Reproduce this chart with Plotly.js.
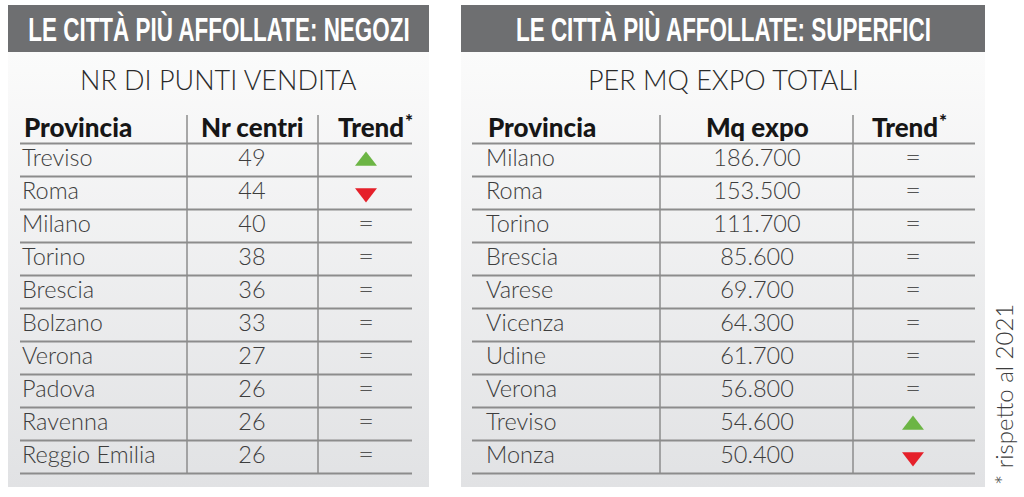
<!DOCTYPE html>
<html>
<head>
<meta charset="utf-8">
<script src="https://cdn.plot.ly/plotly-3.0.1.min.js"></script>
<style>
  html, body { margin: 0; padding: 0; background: #ffffff; }
  #chart { width: 1024px; height: 497px; }
</style>
</head>
<body>
<div id="chart"></div>
<script>
// tabella 1: negozi
const negoziProvince = ['Treviso', 'Roma', 'Milano', 'Torino', 'Brescia', 'Bolzano', 'Verona', 'Padova', 'Ravenna', 'Reggio Emilia'];
const negoziCentri = [49, 44, 40, 38, 36, 33, 27, 26, 26, 26];
const negoziTrend = ['up', 'down', '=', '=', '=', '=', '=', '=', '=', '='];

// tabella 2: superfici
const superfProvince = ['Milano', 'Roma', 'Torino', 'Brescia', 'Varese', 'Vicenza', 'Udine', 'Verona', 'Treviso', 'Monza'];
const superfMq = [186700, 153500, 111700, 85600, 69700, 64300, 61700, 56800, 54600, 50400];
const superfTrend = ['=', '=', '=', '=', '=', '=', '=', '=', 'up', 'down'];

const titoli = ['LE CITTÀ PIÙ AFFOLLATE: NEGOZI', 'LE CITTÀ PIÙ AFFOLLATE: SUPERFICI'];
const sottotitoli = ['NR DI PUNTI VENDITA', 'PER MQ EXPO TOTALI'];
const intestazioni = [['Provincia', 'Nr centri', 'Trend'], ['Provincia', 'Mq expo', 'Trend']];
const nota = '* rispetto al 2021';

// geometria (pixel)
const ROW0 = 160, ROWH = 33;
const rowY = i => ROW0 + ROWH * i;

const panels = [
  { x0: 8, x1: 429, lx0: 20, lx1: 412, sep: [187, 318], px: 22, vx: 252, tx: 366, hx: 371 },
  { x0: 461, x1: 985, lx0: 472, lx1: 975, sep: [660, 853], px: 486, vx: 757, tx: 913, hx: 905 }
];

const fmt = n => String(n).replace(/\B(?=(\d{3})+(?!\d))/g, '.');

const lightFont = { family: 'Lato, sans-serif', size: 23.5, color: '#3d3d3d', weight: 300 };
const boldFont = { family: 'Lato, sans-serif', size: 26, color: '#161616', weight: 900 };

const traces = [];
const shapes = [];
const annotations = [];
const titleIdx = [];

function addTable(p, idx, province, values, trend) {
  // sfondo sfumato
  traces.push({
    x: [p.x0, p.x1, p.x1, p.x0, p.x0],
    y: [52, 52, 487, 487, 52],
    mode: 'lines', line: { width: 0 },
    fill: 'toself',
    fillgradient: { type: 'vertical', colorscale: [[0, '#fbfbfb'], [1, '#e1e2e4']], start: 52, stop: 487 },
    hoverinfo: 'skip'
  });

  shapes.push({ type: 'rect', x0: p.x0, x1: p.x1, y0: 5, y1: 52, fillcolor: '#6e6f71', line: { width: 0 }, layer: 'above' });

  titleIdx.push(annotations.length);
  annotations.push({ x: (p.x0 + p.x1) / 2, y: 29, text: '<b>' + titoli[idx] + '</b>', showarrow: false,
    font: { family: '"Liberation Sans", Arial, sans-serif', size: 34, color: '#ffffff' } });
  annotations.push({ x: (p.x0 + p.x1) / 2, y: 79, text: sottotitoli[idx], showarrow: false,
    font: { family: 'Lato, sans-serif', size: 27, color: '#2a2a2a', weight: 300 } });

  // intestazioni
  const h = intestazioni[idx];
  annotations.push({ x: p.px, y: 127, text: h[0], showarrow: false, xanchor: 'left', font: boldFont });
  annotations.push({ x: p.vx, y: 127, text: h[1], showarrow: false, font: boldFont });
  annotations.push({ x: p.hx, y: 127, text: h[2], showarrow: false, font: boldFont });
  annotations.push({ x: p.hx + 38, y: 120, text: '*', showarrow: false, font: { family: 'Lato, sans-serif', size: 19, color: '#161616', weight: 900 } });

  // linee
  for (let k = 0; k <= province.length; k++) {
    const y = rowY(k) - ROWH / 2;
    shapes.push({ type: 'line', x0: p.lx0, x1: p.lx1, y0: y, y1: y, line: { color: '#8c8c8c', width: 2 }, layer: 'above' });
  }
  p.sep.forEach(x => {
    shapes.push({ type: 'line', x0: x, x1: x, y0: 115, y1: rowY(province.length) - ROWH / 2, line: { color: '#8c8c8c', width: 1.5 }, layer: 'above' });
  });

  const ys = province.map((_, i) => rowY(i));
  traces.push({ x: province.map(() => p.px), y: ys, text: province, mode: 'text', textposition: 'middle right',
    textfont: lightFont, hoverinfo: 'skip', cliponaxis: false });
  traces.push({ x: values.map(() => p.vx), y: ys, text: values.map(fmt), mode: 'text', textposition: 'middle center',
    textfont: lightFont, hoverinfo: 'skip', cliponaxis: false });

  const eqY = ys.filter((_, i) => trend[i] === '=');
  traces.push({ x: eqY.map(() => p.tx), y: eqY, text: eqY.map(() => '='), mode: 'text', textposition: 'middle center',
    textfont: { family: 'Lato, sans-serif', size: 27, color: '#555555', weight: 300 }, hoverinfo: 'skip', cliponaxis: false });

  const upY = ys.filter((_, i) => trend[i] === 'up');
  traces.push({ x: upY.map(() => p.tx), y: upY.map(y => y + 1), mode: 'markers', hoverinfo: 'skip', cliponaxis: false,
    marker: { symbol: 'triangle-up', size: 19, color: '#6cb545', line: { width: 0 } } });
  const downY = ys.filter((_, i) => trend[i] === 'down');
  traces.push({ x: downY.map(() => p.tx), y: downY, mode: 'markers', hoverinfo: 'skip', cliponaxis: false,
    marker: { symbol: 'triangle-down', size: 19, color: '#e5202a', line: { width: 0 } } });
}

addTable(panels[0], 0, negoziProvince, negoziCentri, negoziTrend);
addTable(panels[1], 1, superfProvince, superfMq, superfTrend);

annotations.push({ x: 1003, y: 395, text: nota, showarrow: false, textangle: -90,
  font: { family: 'Lato, sans-serif', size: 24, color: '#3d3d3d', weight: 300 } });

const layout = {
  width: 1024, height: 497,
  margin: { l: 0, r: 0, t: 0, b: 0 },
  paper_bgcolor: '#ffffff', plot_bgcolor: '#ffffff',
  showlegend: false,
  xaxis: { range: [0, 1024], visible: false, fixedrange: true },
  yaxis: { range: [497, 0], visible: false, fixedrange: true },
  shapes: shapes,
  annotations: annotations
};

Plotly.newPlot('chart', traces, layout, { displayModeBar: false, staticPlot: true }).then(gd => {
  // titoli in stile condensato
  titleIdx.forEach(i => {
    const t = gd.querySelector('.annotation[data-index="' + i + '"] text.annotation-text');
    if (t) {
      t.style.transformBox = 'fill-box';
      t.style.transformOrigin = 'center';
      t.style.transform = 'scaleX(0.66)';
    }
  });
});
</script>
</body>
</html>
